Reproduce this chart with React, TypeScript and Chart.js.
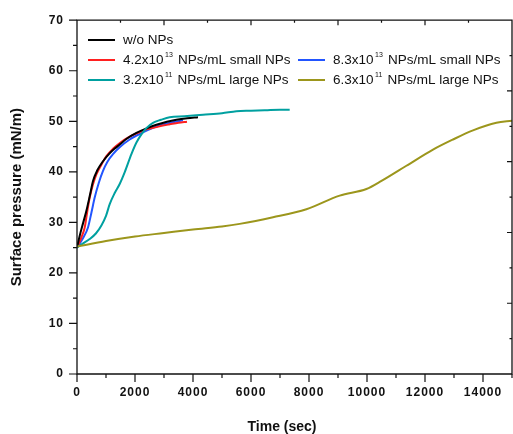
import React, { useEffect, useRef } from 'react';
import { Chart, registerables } from 'chart.js';

Chart.register(...registerables);

// ---- data (time in sec, surface pressure in mN/m) ----
const blackX = [0, 100, 207, 324, 450, 552, 700, 897, 1100, 1300, 1472, 1700, 2048, 2400, 2738, 3100, 3428, 3800, 4172];
const blackY = [25, 27.5, 29.8, 32.3, 35.5, 38.2, 40.3, 42.1, 43.5, 44.6, 45.4, 46.5, 47.7, 48.6, 49.3, 49.9, 50.3, 50.6, 50.8];

const redX = [0, 150, 266, 350, 438, 550, 669, 850, 1014, 1250, 1500, 1800, 2100, 2393, 2700, 3000, 3197, 3500, 3793];
const redY = [25, 27, 29, 32, 34.9, 37.5, 39.5, 41.5, 43.1, 44.6, 45.8, 46.9, 47.7, 48.4, 48.8, 49.2, 49.4, 49.7, 49.9];

const blueX = [0, 200, 379, 500, 610, 750, 897, 1050, 1241, 1500, 1817, 2200, 2621, 3000, 3300, 3655];
const blueY = [25, 26.8, 29, 32, 34.9, 37.8, 40.2, 42, 43.5, 45, 46.4, 47.6, 48.7, 49.4, 49.8, 50.2];

const tealX = [0, 200, 438, 650, 841, 1000, 1128, 1300, 1472, 1650, 1876, 2050, 2221, 2400, 2621, 2900, 3197, 3700, 4345, 5000, 5497, 6000, 6500, 7000, 7334];
const tealY = [25, 25.8, 26.7, 27.8, 29.4, 31.3, 33.6, 35.8, 37.6, 40, 43.5, 45.8, 47.4, 48.7, 49.7, 50.3, 50.8, 51, 51.3, 51.6, 52, 52.1, 52.2, 52.3, 52.3];

const oliveX = [0, 1000, 2000, 3000, 4000, 5000, 5610, 6759, 7910, 9059, 9979, 10500, 11359, 12276, 12966, 13655, 14462, 15000];
const oliveY = [25.2, 26.3, 27.2, 27.9, 28.6, 29.2, 29.7, 31.0, 32.6, 35.3, 36.6, 38.2, 41.2, 44.4, 46.4, 48.2, 49.7, 50.1];

// tick labels
const xTicks = [0, 2000, 4000, 6000, 8000, 10000, 12000, 14000];
const yTicks = [0, 10, 20, 30, 40, 50, 60, 70];

// legend labels: [base, superscript, rest]
const labelBlack = ['w/o NPs', '', ''];
const labelRed = ['4.2x10', '13', ' NPs/mL small NPs'];
const labelBlue = ['8.3x10', '13', ' NPs/mL small NPs'];
const labelTeal = ['3.2x10', '11', ' NPs/mL large NPs'];
const labelOlive = ['6.3x10', '11', ' NPs/mL large NPs'];

const xTitle = 'Time (sec)';
const yTitle = 'Surface pressure (mN/m)';

const colBlack = '#000000';
const colRed = '#ff2020';
const colBlue = '#2255ff';
const colTeal = '#00a0a0';
const colOlive = '#9c961c';

const FONT = '"Liberation Sans", Arial, sans-serif';

function pts(xs: number[], ys: number[]) {
  return xs.map((x, i) => ({ x, y: ys[i] }));
}

const framePlugin = {
  id: 'frameAndLegend',
  beforeDraw(chart: any) {
    chart.ctx.letterSpacing = '1px';
  },
  afterDraw(chart: any) {
    const { ctx, chartArea: a, scales } = chart;
    const xs = scales.x;
    const ys = scales.y;
    ctx.save();
    ctx.letterSpacing = '0px';
    ctx.strokeStyle = '#111';
    ctx.lineWidth = 1.3;
    // frame
    ctx.beginPath();
    ctx.rect(a.left, a.top, a.right - a.left, a.bottom - a.top);
    ctx.stroke();
    ctx.lineWidth = 1.2;
    ctx.beginPath();
    // bottom ticks (outward)
    for (let v = 0; v <= 15000; v += 1000) {
      const p = xs.getPixelForValue(v);
      const len = v % 2000 === 0 ? 8 : 4;
      ctx.moveTo(p, a.bottom);
      ctx.lineTo(p, a.bottom + len);
    }
    // left ticks (outward)
    for (let v = 0; v <= 70; v += 5) {
      const p = ys.getPixelForValue(v);
      const len = v % 10 === 0 ? 8 : 4;
      ctx.moveTo(a.left, p);
      ctx.lineTo(a.left - len, p);
    }
    // top ticks (inward)
    for (let v = 1500; v < 15000; v += 1500) {
      const p = xs.getPixelForValue(v);
      const len = v % 3000 === 0 ? 5 : 2.5;
      ctx.moveTo(p, a.top);
      ctx.lineTo(p, a.top + len);
    }
    // right ticks (inward)
    for (let v = 7; v < 70; v += 7) {
      const p = ys.getPixelForValue(v);
      const len = v % 14 === 0 ? 5 : 2.5;
      ctx.moveTo(a.right, p);
      ctx.lineTo(a.right - len, p);
    }
    ctx.stroke();

    // titles
    ctx.fillStyle = '#111';
    ctx.font = `bold 15px ${FONT}`;
    ctx.textAlign = 'center';
    ctx.textBaseline = 'middle';
    ctx.save();
    ctx.translate(17, (a.top + a.bottom) / 2);
    ctx.rotate(-Math.PI / 2);
    ctx.fillText(yTitle, 0, 0);
    ctx.restore();
    ctx.font = `bold 14px ${FONT}`;
    ctx.fillText(xTitle, 282, 427);

    // legend
    const drawEntry = (lx: number, ly: number, color: string, parts: string[]) => {
      ctx.strokeStyle = color;
      ctx.lineWidth = 2;
      ctx.beginPath();
      ctx.moveTo(lx, ly);
      ctx.lineTo(lx + 27, ly);
      ctx.stroke();
      ctx.fillStyle = '#111';
      ctx.textAlign = 'left';
      ctx.textBaseline = 'middle';
      let tx = lx + 35;
      ctx.font = `13.5px ${FONT}`;
      ctx.fillText(parts[0], tx, ly);
      tx += ctx.measureText(parts[0]).width;
      if (parts[1]) {
        tx += 1.5;
        ctx.font = `7px ${FONT}`;
        ctx.fillText(parts[1], tx, ly - 5);
        tx += ctx.measureText(parts[1]).width + 1.5;
      }
      if (parts[2]) {
        ctx.font = `13.5px ${FONT}`;
        ctx.fillText(parts[2], tx, ly);
      }
    };
    drawEntry(88, 40, colBlack, labelBlack);
    drawEntry(88, 60, colRed, labelRed);
    drawEntry(298, 60, colBlue, labelBlue);
    drawEntry(88, 80, colTeal, labelTeal);
    drawEntry(298, 80, colOlive, labelOlive);
    ctx.restore();
  },
};

export default function App() {
  const ref = useRef<HTMLCanvasElement | null>(null);
  useEffect(() => {
    if (!ref.current) return;
    const mk = (label: string, xs: number[], ys: number[], color: string) => ({
      label,
      data: pts(xs, ys),
      borderColor: color,
      backgroundColor: color,
      borderWidth: 2,
      pointRadius: 0,
      fill: false,
      cubicInterpolationMode: 'monotone' as const,
    });
    const chart = new Chart(ref.current, {
      type: 'line',
      data: {
        datasets: [
          mk(labelOlive.join(''), oliveX, oliveY, colOlive),
          mk(labelTeal.join(''), tealX, tealY, colTeal),
          mk(labelBlack.join(''), blackX, blackY, colBlack),
          mk(labelRed.join(''), redX, redY, colRed),
          mk(labelBlue.join(''), blueX, blueY, colBlue),
        ],
      },
      options: {
        animation: false,
        responsive: false,
        devicePixelRatio: 1,
        layout: { padding: { top: 18, right: 1, left: 0, bottom: 0 } },
        plugins: { legend: { display: false }, tooltip: { enabled: false } },
        scales: {
          x: {
            type: 'linear',
            min: 0,
            max: 15000,
            grid: { display: false, drawTicks: false, tickLength: 0 },
            border: { display: false },
            afterBuildTicks: (s: any) => { s.ticks = xTicks.map((v) => ({ value: v })); },
            ticks: {
              padding: 11,
              maxRotation: 0,
              autoSkip: false,
              color: '#111',
              font: { family: FONT, size: 12, weight: 'bold' },
              callback: (v: any) => String(v),
            },
            afterFit: (s: any) => { s.height = 60; },
          },
          y: {
            type: 'linear',
            min: 0,
            max: 70,
            grid: { display: false, drawTicks: false, tickLength: 0 },
            border: { display: false },
            afterBuildTicks: (s: any) => { s.ticks = yTicks.map((v) => ({ value: v })); },
            ticks: {
              padding: 13,
              autoSkip: false,
              color: '#111',
              font: { family: FONT, size: 12, weight: 'bold' },
              callback: (v: any) => String(v),
            },
            afterFit: (s: any) => { s.width = 77; },
          },
        },
      },
      plugins: [framePlugin],
    });
    return () => chart.destroy();
  }, []);
  return (
    <div style={{ position: 'absolute', left: 0, top: 0, width: 513, height: 434, background: '#fff' }}>
      <canvas ref={ref} width={513} height={434} />
    </div>
  );
}
